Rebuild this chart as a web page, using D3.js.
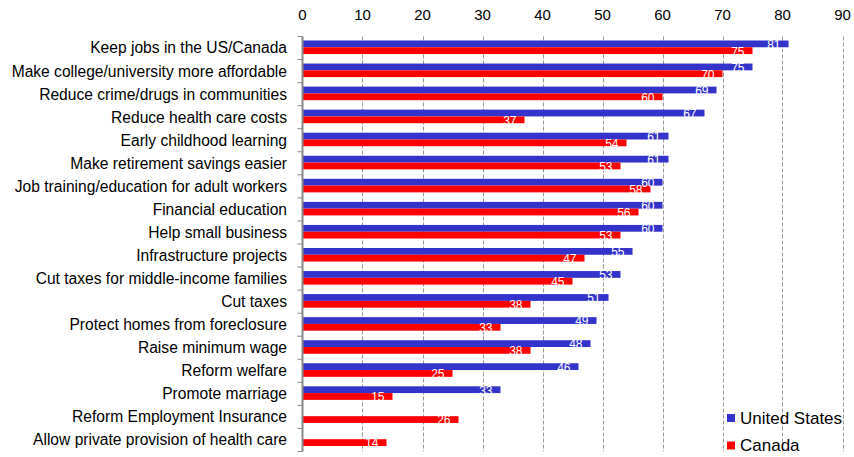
<!DOCTYPE html>
<html>
<head>
<meta charset="utf-8">
<script src="https://cdn.jsdelivr.net/npm/d3@7"></script>
<style>
  body { margin: 0; background: #fff; }
  text { font-family: "Liberation Sans", Arial, sans-serif; }
</style>
</head>
<body>
<div id="chart"></div>
<script>
// categories, top to bottom
var categories = [
  "Keep jobs in the US/Canada",
  "Make college/university more affordable",
  "Reduce crime/drugs in communities",
  "Reduce health care costs",
  "Early childhood learning",
  "Make retirement savings easier",
  "Job training/education for adult workers",
  "Financial education",
  "Help small business",
  "Infrastructure projects",
  "Cut taxes for middle-income families",
  "Cut taxes",
  "Protect homes from foreclosure",
  "Raise minimum wage",
  "Reform welfare",
  "Promote marriage",
  "Reform Employment Insurance",
  "Allow private provision of health care"
];
var usValues = [81, 75, 69, 67, 61, 61, 60, 60, 60, 55, 53, 51, 49, 48, 46, 33, null, null];
var caValues = [75, 70, 60, 37, 54, 53, 58, 56, 53, 47, 45, 38, 33, 38, 25, 15, 26, 14];
var xTicks = [0, 10, 20, 30, 40, 50, 60, 70, 80, 90];
var seriesNames = ["United States", "Canada"];
var colors = ["#3333cc", "#ff0000"];

var W = 854, H = 457;
var margin = {top: 36.5, right: 11.5, bottom: 5.5, left: 302.5};

var svg = d3.select("#chart").append("svg")
  .attr("width", W).attr("height", H);

var x = d3.scaleLinear().domain([0, 90]).range([margin.left, W - margin.right]);
var y = d3.scaleBand().domain(categories).range([margin.top, H - margin.bottom]);
var sub = d3.scaleBand().domain([0, 1]).range([0, y.bandwidth()])
  .paddingOuter(0.7).align(0.42);

// gridlines
svg.append("g").selectAll("line")
  .data(xTicks.slice(1))
  .enter().append("line")
    .attr("x1", function(d) { return Math.round(x(d)) + 0.5; })
    .attr("x2", function(d) { return Math.round(x(d)) + 0.5; })
    .attr("y1", margin.top)
    .attr("y2", H - margin.bottom)
    .attr("stroke", "#999")
    .attr("stroke-dasharray", "4,2");

// top tick labels
svg.append("g").selectAll("text")
  .data(xTicks)
  .enter().append("text")
    .attr("x", function(d) { return x(d); })
    .attr("y", 20)
    .attr("text-anchor", "middle")
    .attr("font-size", "15px")
    .attr("fill", "#000")
    .text(function(d) { return d; });

// bars
var rows = categories.map(function(c, i) {
  return {cat: c, vals: [usValues[i], caValues[i]]};
});

var row = svg.append("g").selectAll("g")
  .data(rows)
  .enter().append("g")
    .attr("transform", function(d) { return "translate(0," + y(d.cat) + ")"; });

row.selectAll("rect")
  .data(function(d) { return d.vals.map(function(v, k) { return {v: v, k: k}; }).filter(function(e) { return e.v != null; }); })
  .enter().append("rect")
    .attr("x", x(0))
    .attr("y", function(d) { return sub(d.k); })
    .attr("width", function(d) { return x(d.v) - x(0); })
    .attr("height", sub.bandwidth())
    .attr("fill", function(d) { return colors[d.k]; });

row.selectAll("text")
  .data(function(d) { return d.vals.map(function(v, k) { return {v: v, k: k}; }).filter(function(e) { return e.v != null; }); })
  .enter().append("text")
    .attr("x", function(d) { return x(d.v) - 8; })
    .attr("y", function(d) { return sub(d.k) + sub.bandwidth() + 1.5; })
    .attr("text-anchor", "end")
    .attr("font-size", "12px")
    .attr("fill", "#fff")
    .text(function(d) { return d.v; });

// left axis: line, ticks at band boundaries, labels
var axisG = svg.append("g");
axisG.append("line")
  .attr("x1", x(0)).attr("x2", x(0))
  .attr("y1", margin.top).attr("y2", H - margin.bottom)
  .attr("stroke", "#888").attr("stroke-width", 2);

var bounds = categories.map(function(c) { return y(c); }).concat([H - margin.bottom]);
axisG.selectAll(".tk")
  .data(bounds)
  .enter().append("line")
    .attr("class", "tk")
    .attr("x1", x(0) - 5).attr("x2", x(0))
    .attr("y1", function(d) { return d; })
    .attr("y2", function(d) { return d; })
    .attr("stroke", "#888");

axisG.selectAll(".lab")
  .data(categories)
  .enter().append("text")
    .attr("class", "lab")
    .attr("x", 287)
    .attr("y", function(d) { return y(d) + y.bandwidth() / 2; })
    .attr("dy", "0.35em")
    .attr("text-anchor", "end")
    .attr("font-size", "15.6px")
    .attr("fill", "#000")
    .text(function(d) { return d; });

// legend
var legend = svg.append("g").selectAll("g")
  .data(seriesNames)
  .enter().append("g")
    .attr("transform", function(d, i) { return "translate(727," + (414 + i * 27.5) + ")"; });
legend.append("rect")
  .attr("width", 8).attr("height", 8)
  .attr("fill", function(d, i) { return colors[i]; });
legend.append("text")
  .attr("x", 13).attr("y", 4)
  .attr("dy", "0.35em")
  .attr("font-size", "17px")
  .attr("fill", "#000")
  .text(function(d) { return d; });
</script>
</body>
</html>
